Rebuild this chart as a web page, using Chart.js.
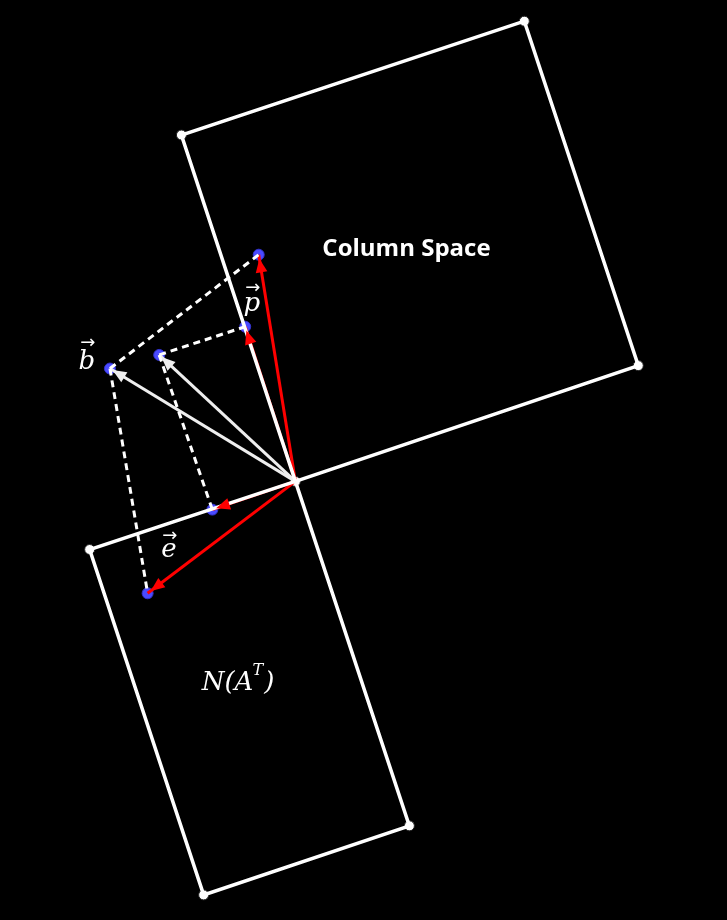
<!DOCTYPE html>
<html>
<head>
<meta charset="utf-8">
<script src="https://cdn.jsdelivr.net/npm/chart.js@4.4.0/dist/chart.umd.min.js"></script>
<style>
  html, body { margin: 0; padding: 0; background: #000; }
  #wrap { width: 727px; height: 920px; }
</style>
</head>
<body>
<div id="wrap"><canvas id="diagram"></canvas></div>
<script>
// Points (x right, y down)
const origin = { x: 293, y: 482 };
const colSpace = [{ x: 293, y: 482 }, { x: 175, y: 126 }, { x: 530, y: 9 }, { x: 648, y: 363 }, { x: 293, y: 482 }];
const nullSpace = [{ x: 293, y: 482 }, { x: 80, y: 552 }, { x: 198, y: 907 }, { x: 411, y: 836 }, { x: 293, y: 482 }];
const cornerPts = [{ x: 175, y: 126 }, { x: 530, y: 9 }, { x: 648, y: 363 }, { x: 293, y: 482 }, { x: 80, y: 552 }, { x: 198, y: 907 }, { x: 411, y: 836 }];
const bluePts = [{ x: 255, y: 249 }, { x: 241, y: 323 }, { x: 152, y: 352 }, { x: 101, y: 366 }, { x: 207, y: 511 }, { x: 140, y: 597 }];
const dashedSegs = [
  [{ x: 101, y: 366 }, { x: 255, y: 249 }],
  [{ x: 152, y: 352 }, { x: 241, y: 323 }],
  [{ x: 101, y: 366 }, { x: 140, y: 597 }],
  [{ x: 152, y: 352 }, { x: 207, y: 511 }]
];
const redTips = [{ x: 255, y: 249 }, { x: 241, y: 323 }, { x: 207, y: 511 }, { x: 140, y: 597 }];
const whiteTips = [{ x: 101, y: 366 }, { x: 152, y: 352 }];

const datasets = [];
function seg(data, color, width, dash) {
  datasets.push({ data: data, showLine: true, borderColor: color, borderWidth: width,
    borderDash: dash || [], pointRadius: 0, fill: false, tension: 0 });
}
seg(colSpace, '#fff', 3.5);
seg(nullSpace, '#fff', 3.5);
dashedSegs.forEach(s => seg(s, '#fff', 3, [7, 5]));
whiteTips.forEach(t => seg([origin, t], '#eee', 3));
redTips.forEach(t => seg([origin, t], '#f00', 3));
datasets.push({ data: cornerPts, pointRadius: 5, pointBackgroundColor: '#fff', pointBorderColor: '#222', pointBorderWidth: 1, showLine: false });
datasets.push({ data: bluePts, pointRadius: 5.5, pointBackgroundColor: '#4a4aff', pointBorderColor: '#33c', pointBorderWidth: 1, showLine: false });

const overlay = {
  id: 'overlay',
  afterDatasetsDraw(chart) {
    const ctx = chart.ctx, xs = chart.scales.x, ys = chart.scales.y;
    const px = p => ({ x: xs.getPixelForValue(p.x), y: ys.getPixelForValue(p.y) });
    function head(tip, color, back) {
      const a = px(origin), b = px(tip);
      const ang = Math.atan2(b.y - a.y, b.x - a.x);
      const ex = b.x - Math.cos(ang) * back, ey = b.y - Math.sin(ang) * back;
      ctx.save();
      ctx.fillStyle = color;
      ctx.beginPath();
      ctx.moveTo(ex, ey);
      ctx.lineTo(ex - Math.cos(ang - 0.4) * 15, ey - Math.sin(ang - 0.4) * 15);
      ctx.lineTo(ex - Math.cos(ang + 0.4) * 15, ey - Math.sin(ang + 0.4) * 15);
      ctx.closePath();
      ctx.fill();
      ctx.restore();
    }
    redTips.forEach(t => head(t, '#f00', 4));
    whiteTips.forEach(t => head(t, '#eee', 3));
    function text(str, x, y, font) {
      const p = px({ x: x, y: y });
      ctx.font = font;
      ctx.fillText(str, p.x, p.y);
    }
    ctx.save();
    ctx.fillStyle = '#fff';
    ctx.textAlign = 'center';
    ctx.textBaseline = 'middle';
    text('Column Space', 408, 243, 'bold 24px "Open Sans", sans-serif');
    ctx.textAlign = 'left';
    text('N(A', 196, 689, 'italic 26px "DejaVu Serif", serif');
    const w = ctx.measureText('N(A').width;
    text('T', 196 + w + 1, 677, 'italic 16px "DejaVu Serif", serif');
    text(')', 196 + w + 13, 689, 'italic 26px "DejaVu Serif", serif');
    ctx.textAlign = 'center';
    text('b', 77, 360, 'italic 26px "DejaVu Serif", serif');
    text('p', 248, 300, 'italic 26px "DejaVu Serif", serif');
    text('e', 162, 553, 'italic 26px "DejaVu Serif", serif');
    text('\u2192', 78, 340, '18px "DejaVu Sans", sans-serif');
    text('\u2192', 249, 284, '18px "DejaVu Sans", sans-serif');
    text('\u2192', 163, 538, '18px "DejaVu Sans", sans-serif');
    ctx.restore();
  }
};

new Chart(document.getElementById('diagram'), {
  type: 'scatter',
  data: { datasets: datasets },
  options: {
    responsive: true,
    maintainAspectRatio: false,
    animation: false,
    layout: { padding: 0 },
    plugins: { legend: { display: false }, tooltip: { enabled: false } },
    scales: {
      x: { type: 'linear', min: -6.1, max: 733.1, display: false },
      y: { type: 'linear', min: -6.1, max: 926.1, reverse: true, display: false }
    }
  },
  plugins: [overlay]
});
</script>
</body>
</html>
